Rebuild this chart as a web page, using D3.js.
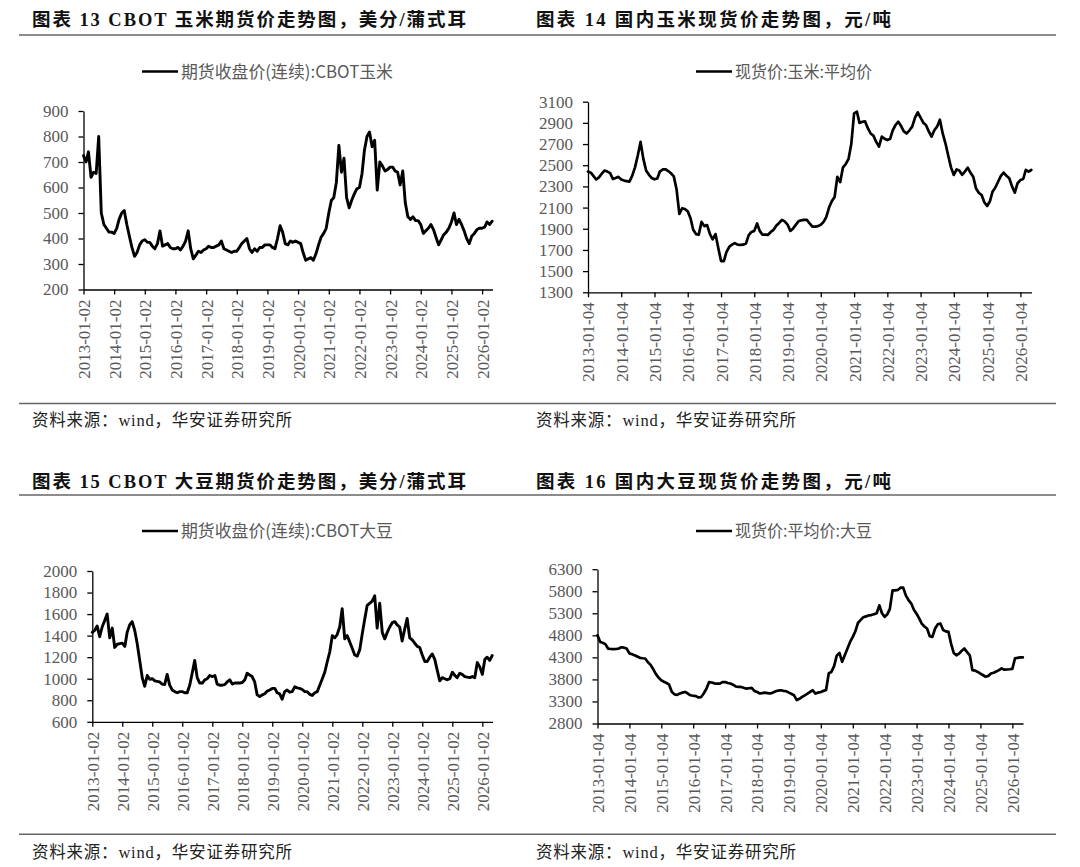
<!DOCTYPE html>
<html><head><meta charset="utf-8">
<script src="https://cdn.jsdelivr.net/npm/d3@7"></script>
<style>
html,body{margin:0;padding:0;background:#fff;}
svg{display:block;}
</style></head>
<body>
<svg id="c" width="1080" height="867"></svg>
<script>
// ---------------- DATA (monthly, first point Jan 2013) ----------------
const titles = [
  "图表 13 CBOT 玉米期货价走势图，美分/蒲式耳",
  "图表 14 国内玉米现货价走势图，元/吨",
  "图表 15 CBOT 大豆期货价走势图，美分/蒲式耳",
  "图表 16 国内大豆现货价走势图，元/吨"
];
const legendNames = [
  "期货收盘价(连续):CBOT玉米",
  "现货价:玉米:平均价",
  "期货收盘价(连续):CBOT大豆",
  "现货价:平均价:大豆"
];
const sourceText = "资料来源：wind，华安证券研究所";

const futTickDates = ["2013-01-02","2014-01-02","2015-01-02","2016-01-02","2017-01-02","2018-01-02","2019-01-02","2020-01-02","2021-01-02","2022-01-02","2023-01-02","2024-01-02","2025-01-02","2026-01-02"];
const spotTickDates = ["2013-01-04","2014-01-04","2015-01-04","2016-01-04","2017-01-04","2018-01-04","2019-01-04","2020-01-04","2021-01-04","2022-01-04","2023-01-04","2024-01-04","2025-01-04","2026-01-04"];

const cornFutTicks = [200,300,400,500,600,700,800,900];
const cornSpotTicks = [1300,1500,1700,1900,2100,2300,2500,2700,2900,3100];
const soyFutTicks = [600,800,1000,1200,1400,1600,1800,2000];
const soySpotTicks = [2800,3300,3800,4300,4800,5300,5800,6300];

const cornFut = [
 725,700,740,640,660,655,800,500,455,440,425,425,
 420,440,475,500,510,455,410,365,330,345,375,390,
 395,385,385,370,360,380,430,370,375,380,365,360,
 360,365,355,370,390,430,360,320,335,350,345,355,
 360,370,365,365,370,375,390,360,355,350,345,350,
 350,365,380,390,400,360,345,360,350,365,365,375,
 375,375,365,360,400,450,425,380,375,390,385,390,
 385,380,345,315,320,325,315,340,375,405,420,440,
 500,550,560,620,765,660,715,560,520,550,575,595,
 600,655,745,800,818,760,785,590,700,685,665,670,
 680,680,665,660,610,665,540,485,475,485,470,470,
 455,420,430,440,455,435,405,375,395,415,425,440,
 465,500,455,475,455,430,400,380,410,420,435,440,
 440,445,465,455,468
];
const cornSpot = [
 2440,2430,2400,2365,2385,2420,2450,2440,2425,2370,2380,2390,
 2365,2355,2350,2345,2400,2480,2590,2720,2560,2450,2410,2380,
 2367,2375,2440,2460,2462,2445,2424,2395,2270,2040,2094,2087,
 2065,2000,1890,1850,1845,1965,1925,1935,1850,1800,1850,1720,
 1595,1595,1680,1730,1750,1764,1750,1748,1750,1760,1840,1870,
 1880,1950,1880,1845,1845,1843,1870,1890,1930,1955,1984,1970,
 1940,1880,1900,1937,1970,1980,1984,1984,1950,1920,1921,1925,
 1937,1965,2010,2100,2160,2200,2390,2340,2480,2510,2560,2700,
 2990,3005,2900,2910,2915,2850,2800,2780,2720,2676,2770,2750,
 2738,2750,2830,2880,2911,2870,2820,2800,2830,2864,2950,3000,
 2950,2900,2880,2820,2770,2830,2864,2930,2800,2707,2590,2480,
 2408,2460,2450,2410,2440,2477,2430,2392,2280,2240,2219,2150,
 2115,2160,2250,2290,2344,2400,2430,2400,2377,2300,2241,2330,
 2360,2370,2455,2440,2455
];
const soyFut = [
 1430,1450,1490,1390,1480,1540,1600,1380,1470,1290,1320,1325,
 1330,1300,1430,1500,1530,1450,1330,1170,1010,930,1030,995,
 1000,980,975,970,950,945,1040,940,895,880,870,880,
 880,870,870,940,1050,1170,1010,960,960,990,1000,1030,
 1020,1030,950,940,940,945,970,990,950,960,960,960,
 965,990,1050,1035,1020,970,850,835,850,860,885,895,
 910,910,870,860,810,880,895,875,880,925,915,910,
 900,880,880,855,845,870,880,940,1000,1060,1160,1250,
 1400,1380,1410,1480,1650,1370,1400,1340,1280,1220,1210,1270,
 1420,1560,1680,1700,1720,1770,1470,1700,1430,1370,1430,1480,
 1520,1530,1500,1480,1350,1460,1560,1380,1360,1330,1300,1290,
 1220,1160,1160,1200,1230,1180,1080,980,1010,1000,990,1000,
 1060,1030,1010,1050,1040,1020,1015,1010,1020,1010,1150,1110,
 1040,1180,1200,1170,1215
];
const soySpot = [
 4800,4650,4630,4600,4500,4490,4485,4490,4500,4530,4520,4500,
 4390,4370,4350,4320,4290,4280,4275,4190,4130,4030,3920,3840,
 3780,3745,3720,3680,3520,3460,3450,3480,3500,3516,3480,3440,
 3430,3420,3390,3400,3480,3590,3740,3730,3710,3706,3706,3740,
 3740,3720,3706,3680,3640,3630,3630,3610,3592,3600,3607,3540,
 3516,3480,3490,3501,3490,3480,3500,3532,3545,3554,3540,3532,
 3500,3470,3440,3330,3360,3403,3440,3479,3520,3554,3480,3500,
 3516,3540,3560,3940,3970,4100,4340,4400,4200,4350,4500,4650,
 4765,4900,5080,5150,5210,5230,5250,5260,5280,5300,5480,5300,
 5220,5280,5400,5820,5820,5830,5880,5880,5700,5600,5520,5380,
 5290,5180,5067,5000,4954,4780,4765,4954,5050,5067,4920,4890,
 4878,4600,4400,4348,4386,4450,4500,4420,4348,4010,4000,3970,
 3930,3894,3860,3880,3935,3950,3980,4010,4050,4020,4025,4030,
 4040,4280,4290,4298,4300
];

// ---------------- LAYOUT ----------------
const parse = d3.timeParse("%Y-%m-%d");
const svg = d3.select("#c");
svg.append("rect").attr("width",1080).attr("height",867).attr("fill","#fff");

const panels = [
  {title:titles[0], tw:434, tx:32, ty:26, legend:legendNames[0], lx:142, lw:212, ly:71.5,
   data:cornFut, ticks:futTickDates, yt:cornFutTicks, sw:2.9,
   x0:83.5, x1:492.5, yTop:111, yBot:289.5, srcY:426},
  {title:titles[1], tw:355, tx:536, ty:26, legend:legendNames[1], lx:696, lw:137, ly:71.5,
   data:cornSpot, ticks:spotTickDates, yt:cornSpotTicks, sw:2.7,
   x0:588, x1:1031.5, yTop:101.7, yBot:292.3, srcY:426},
  {title:titles[2], tw:434, tx:32, ty:488, legend:legendNames[2], lx:142, lw:212, ly:531,
   data:soyFut, ticks:futTickDates, yt:soyFutTicks, sw:2.9,
   x0:92.3, x1:492.5, yTop:571, yBot:721.8, srcY:858},
  {title:titles[3], tw:355, tx:536, ty:488, legend:legendNames[3], lx:696, lw:137, ly:531,
   data:soySpot, ticks:spotTickDates, yt:soySpotTicks, sw:2.7,
   x0:597.5, x1:1023, yTop:569.2, yBot:723.5, srcY:858}
];

// header / footer rules
[35, 495, 403.5, 834.3].forEach(y => svg.append("line").attr("x1",19).attr("x2",1056).attr("y1",y).attr("y2",y)
  .attr("stroke","#666").attr("stroke-width",1.4));

const endDate = parse("2026-05-06");

panels.forEach(p => {
  const g = svg.append("g");
  // title
  g.append("text").attr("x",p.tx).attr("y",p.ty)
    .attr("font-family","'Liberation Serif','Noto Sans CJK SC',serif")
    .attr("font-weight","bold").attr("font-size",18.5).attr("fill","#111")
    .attr("textLength",p.tw).attr("lengthAdjust","spacing")
    .text(p.title);
  // footer source
  g.append("text").attr("x",p.tx).attr("y",p.srcY)
    .attr("font-family","'Liberation Serif','Noto Sans CJK SC',serif")
    .attr("font-size",16.5).attr("fill","#222")
    .attr("textLength",260).attr("lengthAdjust","spacing")
    .text(sourceText);
  // legend
  g.append("line").attr("x1",p.lx).attr("x2",p.lx+36).attr("y1",p.ly).attr("y2",p.ly)
    .attr("stroke","#000").attr("stroke-width",2.7);
  g.append("text").attr("x",p.lx+39).attr("y",p.ly+6)
    .attr("font-family","'Noto Sans CJK SC',sans-serif").attr("font-size",17).attr("fill","#595959")
    .attr("textLength",p.lw).attr("lengthAdjust","spacingAndGlyphs")
    .text(p.legend);

  const startDate = parse(p.ticks[0]);
  const x = d3.scaleTime().domain([startDate, endDate]).range([p.x0, p.x1]);
  const y = d3.scaleLinear().domain([p.yt[0], p.yt[p.yt.length-1]]).range([p.yBot, p.yTop]);

  const pts = p.data.map((v,i) => ({date: d3.timeMonth.offset(startDate, i), v}));
  const line = d3.line().x(d => x(d.date)).y(d => y(d.v));
  g.append("path").datum(pts).attr("d", line)
    .attr("fill","none").attr("stroke","#000").attr("stroke-width",p.sw)
    .attr("stroke-linejoin","round").attr("stroke-linecap","round");

  // y axis
  const ya = g.append("g").attr("transform",`translate(${p.x0},0)`)
    .call(d3.axisLeft(y).tickValues(p.yt).tickSize(5).tickSizeOuter(0).tickPadding(10).tickFormat(d3.format("d")));
  ya.selectAll("path,line").attr("stroke","#000").attr("stroke-width",1.3);
  ya.selectAll("text").attr("font-family","'Liberation Serif',serif").attr("font-size",17).attr("fill","#595959");

  // x axis
  const xa = g.append("g").attr("transform",`translate(0,${p.yBot})`)
    .call(d3.axisBottom(x).tickValues(p.ticks.map(parse)).tickSize(5).tickSizeOuter(0).tickFormat(d3.timeFormat("%Y-%m-%d")));
  xa.selectAll("path,line").attr("stroke","#000").attr("stroke-width",1.3);
  xa.selectAll("text")
    .attr("font-family","'Liberation Serif',serif").attr("font-size",17).attr("fill","#595959")
    .attr("text-anchor","end").attr("transform","rotate(-90)")
    .attr("x",-10).attr("y",0).attr("dy","0.35em");
});
</script>
</body></html>
